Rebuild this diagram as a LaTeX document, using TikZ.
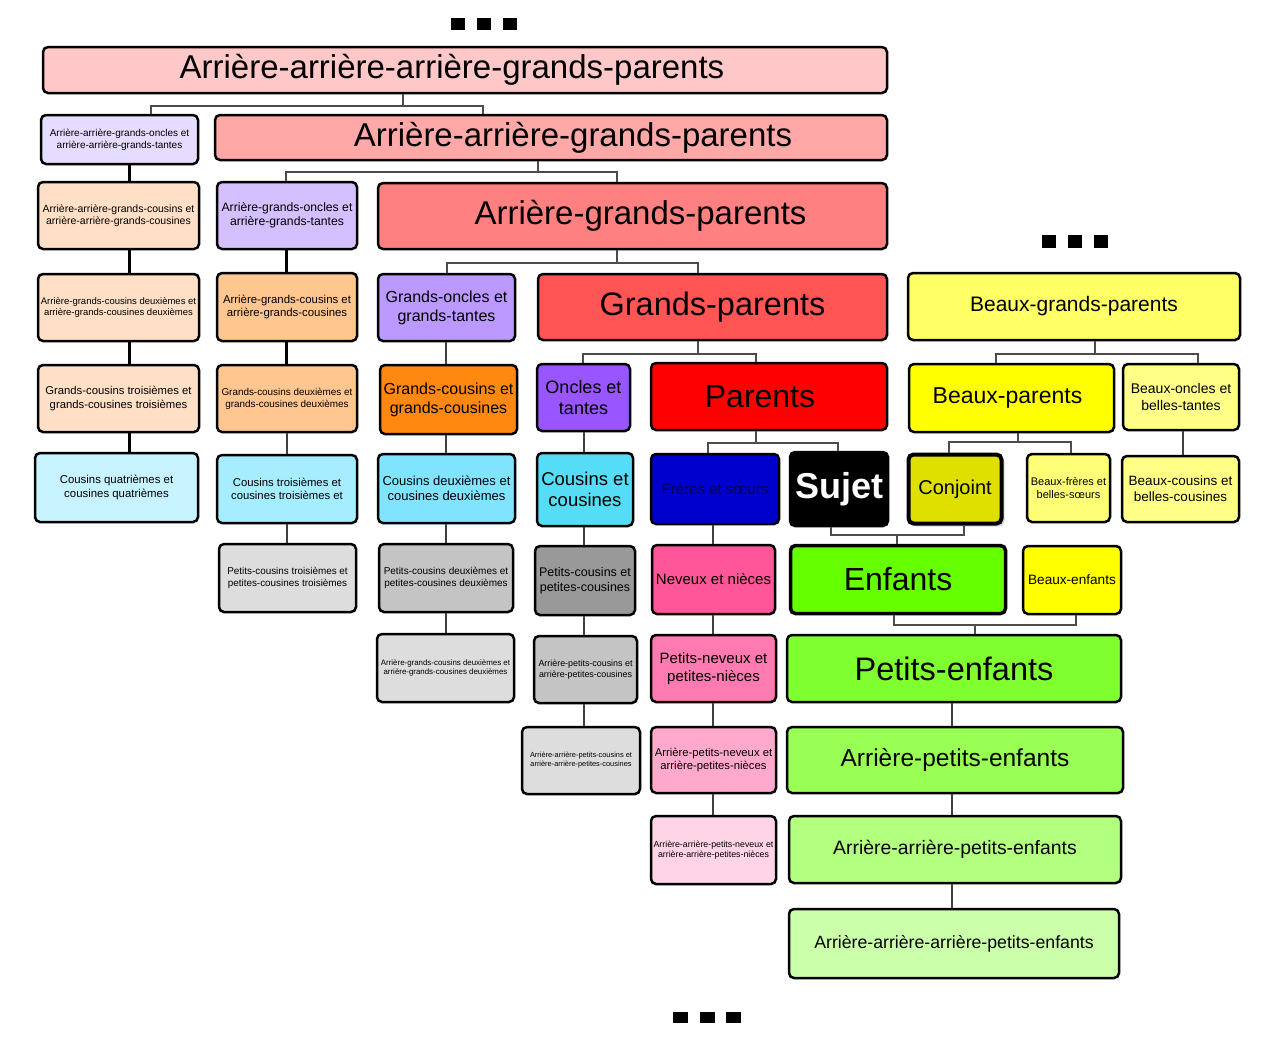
\documentclass[tikz,border=0pt]{standalone}
\usepackage{fontspec}
\setmainfont{Liberation Sans}
\usepackage{xcolor}
\usetikzlibrary{shadows}
\newcommand{\taille}[2]{\fontsize{#1}{#2}\selectfont}
\definecolor{aaagp}{HTML}{FFC8C8}
\definecolor{aagp}{HTML}{FFA8A8}
\definecolor{agp}{HTML}{FF8080}
\definecolor{gpar}{HTML}{FF5555}
\definecolor{par}{HTML}{FF0000}
\definecolor{violet1}{HTML}{E6DCFF}
\definecolor{violet2}{HTML}{D4BFFF}
\definecolor{violet3}{HTML}{BB99FF}
\definecolor{violet4}{HTML}{9955FF}
\definecolor{peche1}{HTML}{FFE0C6}
\definecolor{peche2}{HTML}{FFC690}
\definecolor{orange1}{HTML}{FF8811}
\definecolor{cyan1}{HTML}{C6F3FF}
\definecolor{cyan2}{HTML}{A6EDFF}
\definecolor{cyan3}{HTML}{80E4FF}
\definecolor{cyan4}{HTML}{55DDF8}
\definecolor{gris1}{HTML}{DDDDDD}
\definecolor{gris2}{HTML}{C4C4C4}
\definecolor{gris3}{HTML}{999999}
\definecolor{bleu1}{HTML}{0000CC}
\definecolor{bleutxt}{HTML}{000050}
\definecolor{jaune1}{HTML}{FFFF66}
\definecolor{jaune2}{HTML}{FFFF00}
\definecolor{jaune3}{HTML}{FFFF88}
\definecolor{jaune4}{HTML}{FFFF77}
\definecolor{conj}{HTML}{E0E000}
\definecolor{rose2}{HTML}{FF5599}
\definecolor{rose3}{HTML}{FF7AB0}
\definecolor{rose4}{HTML}{FFAACC}
\definecolor{rose5}{HTML}{FFD4E6}
\definecolor{vert1}{HTML}{66FF00}
\definecolor{vert2}{HTML}{80FF30}
\definecolor{vert3}{HTML}{99FF55}
\definecolor{vert4}{HTML}{B3FF80}
\definecolor{vert5}{HTML}{CCFFAA}

\begin{document}
\begin{tikzpicture}[x=1pt,y=-1pt,
boite/.style={draw=black, line width=2.5pt, rounded corners=5pt, align=center, inner sep=1pt},
crochet/.style={draw=black!70, line width=1.5pt},
lien/.style={line width=3pt},
lienfin/.style={draw=black!75, line width=2pt}]
\useasboundingbox (0,0) rectangle (1280,1063);
\foreach \x in {451,477,503} \fill (\x,18) rectangle ++(14,12);
\foreach \x in {1042,1068,1094} \fill (\x,235) rectangle ++(14,13);
\foreach \x in {673,700,726} \fill (\x,1012) rectangle ++(15,11);

\node[boite, fill=aaagp, minimum width=844pt, minimum height=46pt, font=\taille{33}{40}] (a3) at (465,70) {\hspace*{-26pt}Arrière-arrière-arrière-grands-parents};
\node[boite, fill=violet1, minimum width=157pt, minimum height=49pt, font=\taille{10}{12}] (aagot) at (119.5,139.5) {Arrière-arrière-grands-oncles et\\arrière-arrière-grands-tantes};
\node[boite, fill=aagp, minimum width=672pt, minimum height=45pt, font=\taille{33}{40}] (a2) at (551,137.5) {\hspace*{44pt}Arrière-arrière-grands-parents};
\node[boite, fill=peche1, minimum width=161pt, minimum height=67pt, font=\taille{10.5}{12.5}] (aagc) at (118.5,215.5) {Arrière-arrière-grands-cousins et\\arrière-arrière-grands-cousines};
\node[boite, fill=violet2, minimum width=140pt, minimum height=67pt, font=\taille{12.2}{14.5}] (agot) at (287,215.5) {Arrière-grands-oncles et\\arrière-grands-tantes};
\node[boite, fill=agp, minimum width=509pt, minimum height=66pt, font=\taille{33}{40}] (a1) at (632.5,216) {\hspace*{16pt}Arrière-grands-parents};
\node[boite, fill=peche1, minimum width=161pt, minimum height=67pt, font=\taille{9.5}{11.5}] (agc2) at (118.5,307.5) {Arrière-grands-cousins deuxièmes et\\arrière-grands-cousines deuxièmes};
\node[boite, fill=peche2, minimum width=140pt, minimum height=68pt, font=\taille{11.4}{13.5}] (agc) at (287,307) {Arrière-grands-cousins et\\arrière-grands-cousines};
\node[boite, fill=violet3, minimum width=137pt, minimum height=67pt, font=\taille{16}{19}] (gogt) at (446.5,307.5) {Grands-oncles et\\grands-tantes};
\node[boite, fill=gpar, minimum width=349pt, minimum height=66pt, font=\taille{32.5}{39}] (gp) at (712.5,307) {Grands-parents};
\node[boite, fill=jaune1, minimum width=332pt, minimum height=67pt, font=\taille{21}{25}] (bgp) at (1074,306.5) {Beaux-grands-parents};

\node[boite, fill=peche1, minimum width=161pt, minimum height=67pt, font=\taille{11.3}{13.5}] (gc3) at (118.5,398.5) {Grands-cousins troisièmes et\\grands-cousines troisièmes};
\node[boite, fill=peche2, minimum width=140pt, minimum height=67pt, font=\taille{9.9}{12}] (gc2) at (287,398.5) {Grands-cousins deuxièmes et\\grands-cousines deuxièmes};
\node[boite, fill=orange1, minimum width=137pt, minimum height=69pt, font=\taille{16}{19}] (gcgc) at (448.5,399.5) {Grands-cousins et\\grands-cousines};
\node[boite, fill=violet4, minimum width=93pt, minimum height=67pt, font=\taille{18}{20.5}] (ot) at (583.5,397.5) {Oncles et\\tantes};
\node[boite, fill=par, minimum width=236pt, minimum height=67pt, font=\taille{32}{38}] (parents) at (769,396.5) {\hspace*{-18pt}Parents};
\node[boite, fill=jaune2, minimum width=205pt, minimum height=68pt, font=\taille{23}{27}] (bp) at (1011.5,398) {\hspace*{-8pt}Beaux-parents};
\node[boite, fill=jaune3, minimum width=116pt, minimum height=66pt, font=\taille{14}{16.5}] (bobt) at (1181,397) {Beaux-oncles et\\belles-tantes};

\node[boite, fill=cyan1, minimum width=163pt, minimum height=69pt, font=\taille{11.4}{13.5}] (c4) at (116.5,487.5) {Cousins quatrièmes et\\cousines quatrièmes};
\node[boite, fill=cyan2, minimum width=140pt, minimum height=68pt, font=\taille{11.3}{13.5}] (c3) at (287,489) {Cousins troisièmes et\\cousines troisièmes et};
\node[boite, fill=cyan3, minimum width=137pt, minimum height=69pt, font=\taille{13}{15.5}] (c2) at (446.5,488.5) {Cousins deuxièmes et\\cousines deuxièmes};
\node[boite, fill=cyan4, minimum width=96pt, minimum height=73pt, font=\taille{18.5}{21}] (cc) at (585,489.5) {Cousins et\\cousines};
\node[boite, fill=bleu1, text=bleutxt, minimum width=128pt, minimum height=70pt, font=\taille{15}{18}] (fs) at (715,489) {Frères et sœurs};
\node[boite, fill=black, text=white, minimum width=98pt, minimum height=74pt, font=\taille{36}{42}\bfseries] (sujet) at (839,489) {Sujet};
\node[boite, fill=conj, line width=4pt, minimum width=93pt, minimum height=69pt, font=\taille{20}{24}, drop shadow={shadow xshift=3pt, shadow yshift=-3pt, opacity=.3}] (conjoint) at (955,489) {Conjoint};
\node[boite, fill=jaune4, minimum width=83pt, minimum height=68pt, font=\taille{11}{13.5}] (bfbs) at (1068.5,488) {Beaux-frères et\\belles-sœurs};
\node[boite, fill=jaune3, minimum width=117pt, minimum height=66pt, font=\taille{13.5}{16}] (bcbc) at (1180.5,489) {Beaux-cousins et\\belles-cousines};

\node[boite, fill=gris1, minimum width=137pt, minimum height=68pt, font=\taille{9.9}{12}] (pc3) at (287.5,578) {Petits-cousins troisièmes et\\petites-cousines troisièmes};
\node[boite, fill=gris2, minimum width=134pt, minimum height=68pt, font=\taille{10}{12}] (pc2) at (446,578) {Petits-cousins deuxièmes et\\petites-cousines deuxièmes};
\node[boite, fill=gris3, minimum width=100pt, minimum height=69pt, font=\taille{12.5}{15}] (pcc) at (585,580.5) {Petits-cousins et\\petites-cousines};
\node[boite, fill=rose2, minimum width=123pt, minimum height=69pt, font=\taille{15}{18}] (nn) at (713.5,579.5) {Neveux et nièces};
\node[boite, fill=vert1, line width=3.5pt, minimum width=215pt, minimum height=68pt, font=\taille{32}{38}] (enfants) at (898,579.5) {Enfants};
\node[boite, fill=jaune2, minimum width=98pt, minimum height=68pt, font=\taille{13.6}{16}] (be) at (1072,580) {Beaux-enfants};

\node[boite, fill=gris1, minimum width=137pt, minimum height=68pt, font=\taille{7.9}{9.5}] (agc2b) at (445.5,668) {Arrière-grands-cousins deuxièmes et\\arrière-grands-cousines deuxièmes};
\node[boite, fill=gris2, minimum width=103pt, minimum height=67pt, font=\taille{8.9}{10.5}] (apc) at (585.5,669.5) {Arrière-petits-cousins et\\arrière-petites-cousines};
\node[boite, fill=rose3, minimum width=125pt, minimum height=67pt, font=\taille{15}{17.5}] (pnpn) at (713.5,668.5) {Petits-neveux et\\petites-nièces};
\node[boite, fill=vert2, minimum width=334pt, minimum height=67pt, font=\taille{32.5}{39}] (pe) at (954,668.5) {Petits-enfants};

\node[boite, fill=gris1, minimum width=118pt, minimum height=67pt, font=\taille{7.4}{9}] (aapc) at (581,760.5) {Arrière-arrière-petits-cousins et\\arrière-arrière-petites-cousines};
\node[boite, fill=rose4, minimum width=125pt, minimum height=66pt, font=\taille{11.3}{13.5}] (apn) at (713.5,760) {Arrière-petits-neveux et\\arrière-petites-nièces};
\node[boite, fill=vert3, minimum width=336pt, minimum height=66pt, font=\taille{24.5}{29}] (ape) at (955,760) {Arrière-petits-enfants};
\node[boite, fill=rose5, minimum width=125pt, minimum height=68pt, font=\taille{8.8}{10.5}] (aapn) at (713.5,850) {Arrière-arrière-petits-neveux et\\arrière-arrière-petites-nièces};
\node[boite, fill=vert4, minimum width=332pt, minimum height=67pt, font=\taille{19.4}{23}] (aape) at (955,849.5) {Arrière-arrière-petits-enfants};
\node[boite, fill=vert5, minimum width=330pt, minimum height=69pt, font=\taille{17.7}{21}] (aaape) at (954,943.5) {Arrière-arrière-arrière-petits-enfants};

\coordinate (j1) at (403,106);
\coordinate (j2) at (538,172);
\coordinate (j3) at (617,263);
\coordinate (j4) at (698,354);
\coordinate (j5) at (756,443);
\coordinate (j6) at (1095,354);
\coordinate (j7) at (1018,442);
\coordinate (j8) at (897,535);
\coordinate (j9) at (975,625);
\draw[crochet] (j1 |- a3.south) -- (j1);
\draw[crochet] (151,0 |- aagot.north) |- (j1) -| (483,0 |- a2.north);
\draw[crochet] (j2 |- a2.south) -- (j2);
\draw[crochet] (286,0 |- agot.north) |- (j2) -| (617,0 |- a1.north);
\draw[crochet] (j3 |- a1.south) -- (j3);
\draw[crochet] (447,0 |- gogt.north) |- (j3) -| (698,0 |- gp.north);
\draw[crochet] (j4 |- gp.south) -- (j4);
\draw[crochet] (583,0 |- ot.north) |- (j4) -| (756,0 |- parents.north);
\draw[crochet] (j5 |- parents.south) -- (j5);
\draw[crochet] (708,0 |- fs.north) |- (j5) -| (838,0 |- sujet.north);
\draw[crochet] (j6 |- bgp.south) -- (j6);
\draw[crochet] (996,0 |- bp.north) |- (j6) -| (1198,0 |- bobt.north);
\draw[crochet] (j7 |- bp.south) -- (j7);
\draw[crochet] (949,0 |- conjoint.north) |- (j7) -| (1071,0 |- bfbs.north);
\draw[crochet] (831,0 |- sujet.south) |- (j8) -| (964,0 |- conjoint.south);
\draw[crochet] (j8) -- (j8 |- enfants.north);
\draw[crochet] (894,0 |- enfants.south) |- (j9) -| (1076,0 |- be.south);
\draw[crochet] (j9) -- (j9 |- pe.north);

\foreach \a/\b in {aagot/aagc, aagc/agc2, agc2/gc3, gc3/c4}
  \draw[lien] (129,0 |- \a.south) -- (129,0 |- \b.north);
\foreach \a/\b in {agot/agc, agc/gc2}
  \draw[lien] (286,0 |- \a.south) -- (286,0 |- \b.north);
\foreach \a/\b in {gc2/c3, c3/pc3}
  \draw[lienfin] (287,0 |- \a.south) -- (287,0 |- \b.north);
\foreach \a/\b in {gogt/gcgc, gcgc/c2, c2/pc2, pc2/agc2b}
  \draw[lienfin] (446,0 |- \a.south) -- (446,0 |- \b.north);
\foreach \a/\b in {ot/cc, cc/pcc, pcc/apc, apc/aapc}
  \draw[lienfin] (584,0 |- \a.south) -- (584,0 |- \b.north);
\foreach \a/\b in {fs/nn, nn/pnpn, pnpn/apn, apn/aapn}
  \draw[lienfin] (713,0 |- \a.south) -- (713,0 |- \b.north);
\foreach \a/\b in {pe/ape, ape/aape, aape/aaape}
  \draw[lienfin] (952,0 |- \a.south) -- (952,0 |- \b.north);
\draw[lienfin] (1183,0 |- bobt.south) -- (1183,0 |- bcbc.north);
\end{tikzpicture}
\end{document}
